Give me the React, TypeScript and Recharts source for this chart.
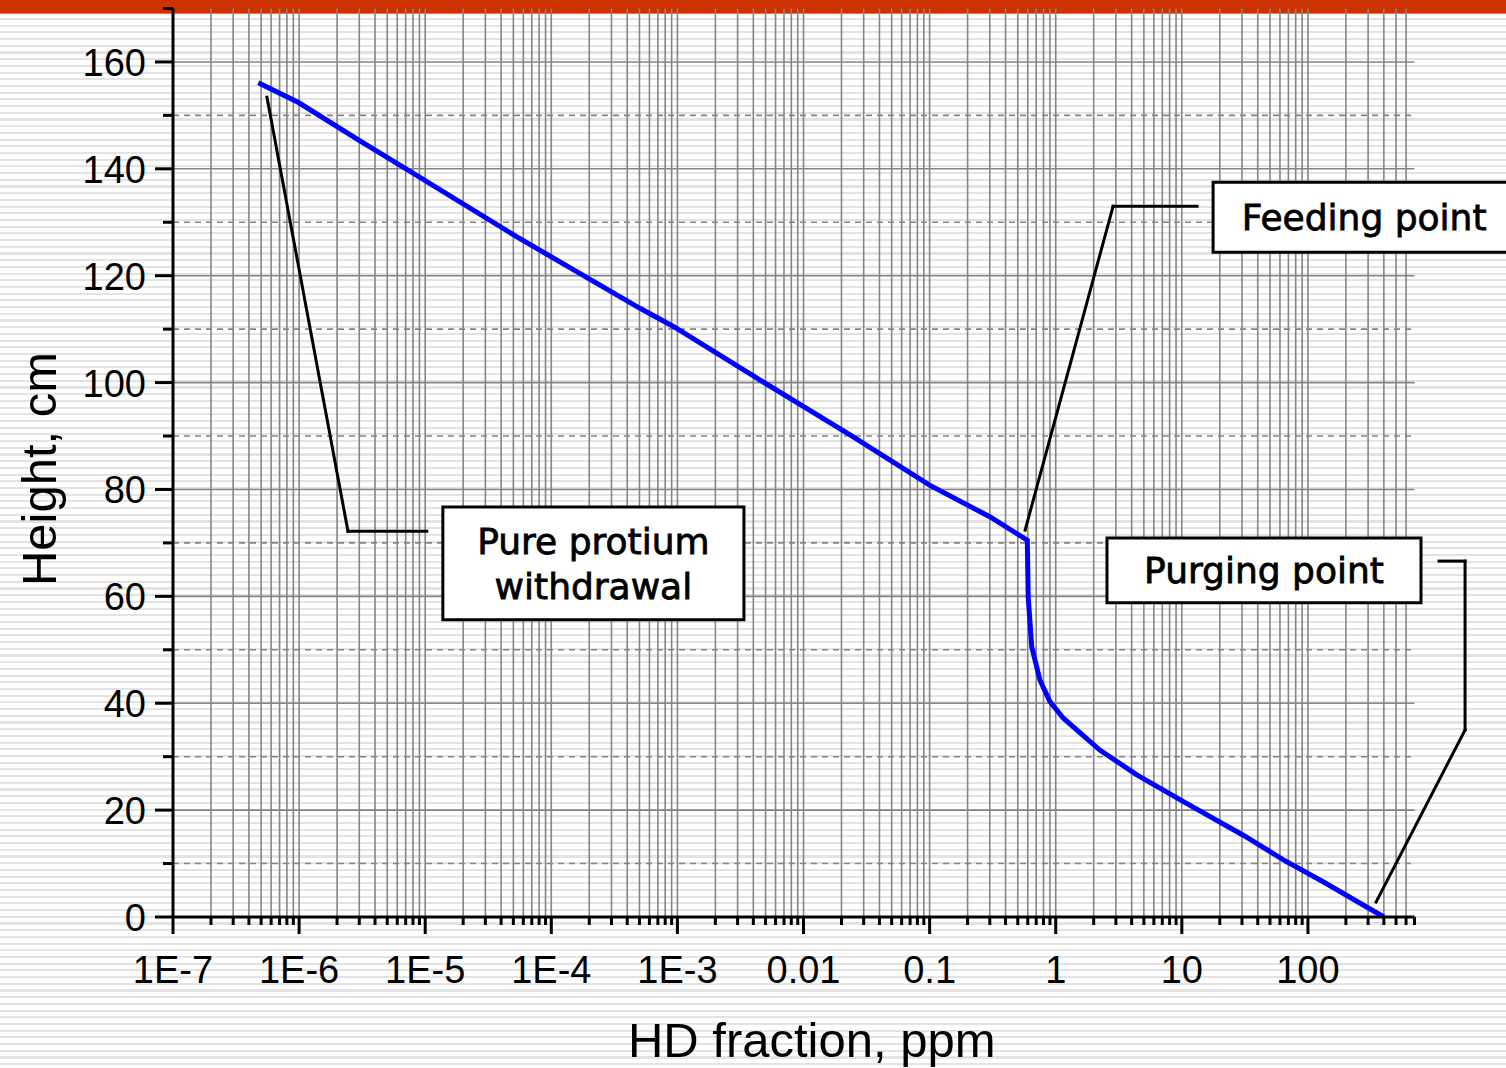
import React from 'react';
import { LineChart, Line, XAxis, YAxis, CartesianGrid, ReferenceArea, ReferenceLine } from 'recharts';

// HD fraction (ppm) vs column height (cm)
const hdFraction = [
  4.75e-7, 9.9e-7, 2.95e-6, 8.0e-6, 5.3e-5, 5.05e-4, 9.3e-4, 4.5e-3, 0.0234, 0.1, 0.3, 0.595,
  0.605, 0.645, 0.75, 0.9, 1.15, 2.25, 4.4, 10.3, 30.7, 64, 132, 400,
];
const heightCm = [
  156.1, 152.4, 145.4, 139.2, 127.3, 113.9, 110.5, 100.5, 90.2, 80.8, 74.9, 70.5,
  59.9, 50.6, 44.3, 40.3, 37.2, 31.2, 26.6, 21.6, 15.3, 10.7, 6.6, 0,
];

const decades = [1e-7, 1e-6, 1e-5, 1e-4, 1e-3, 0.01, 0.1, 1, 10, 100];
const decadeLabels = ['1E-7', '1E-6', '1E-5', '1E-4', '1E-3', '0.01', '0.1', '1', '10', '100'];
const multipliers = [1, 2, 3, 4, 5, 6, 7, 8, 9];
const xMax = 700;

const heightTicks = [0, 10, 20, 30, 40, 50, 60, 70, 80, 90, 100, 110, 120, 130, 140, 150, 160, 170];
const solidHeights = [20, 40, 60, 80, 100, 120, 140, 160];
const dashedHeights = [10, 30, 50, 70, 90, 110, 130, 150];

// callouts, in data units
const feedingBox = { x: [17.7, 4400], y: [124.4, 137.5] };
const feedingLeader = [[13.2, 133], [2.85, 133], [0.572, 72.4]];
const protiumBox = { x: [1.38e-5, 3.37e-3], y: [55.6, 76.7] };
const protiumLeader = [[1.03e-5, 72.2], [2.44e-6, 72.2], [5.56e-7, 153.4]];
const purgingBox = { x: [2.55, 788], y: [58.8, 70.9] };
const purgingLeader = [[1096, 66.6], [1762, 66.6], [1762, 35], [347, 2.8]];

const data = hdFraction.map((x, i) => ({ x, y: heightCm[i] }));
const xTicks = decades.flatMap((d) => multipliers.map((m) => d * m)).filter((v) => v <= xMax);
const xGrid = xTicks.filter((v) => v < xMax);

const tickFont = "'Liberation Sans', Arial, sans-serif";
const boxFont = "'DejaVu Sans', Verdana, sans-serif";

const XTick = (props: any) => {
  const { x, y, payload } = props;
  const idx = decades.indexOf(payload.value);
  const major = idx >= 0;
  return (
    <g>
      <line x1={x} x2={x} y1={y} y2={y + (major ? 17 : 8)} stroke="#000" strokeWidth={3} />
      {major && (
        <text x={x} y={y + 66} textAnchor="middle" fontSize={38} fontFamily={tickFont} fill="#000">
          {decadeLabels[idx]}
        </text>
      )}
    </g>
  );
};

const YTick = (props: any) => {
  const { x, y, payload } = props;
  const major = payload.value % 20 === 0;
  return (
    <g>
      <line x1={x - (major ? 18 : 10)} x2={x} y1={y} y2={y} stroke="#000" strokeWidth={3} />
      {major && (
        <text x={x - 27} y={y + 14} textAnchor="end" fontSize={38} fontFamily={tickFont} fill="#000">
          {payload.value}
        </text>
      )}
    </g>
  );
};

const XTitle = (props: any) => {
  const { viewBox } = props;
  const cx = viewBox.x + viewBox.width / 2 + 18;
  return (
    <text x={cx} y={1057} textAnchor="middle" fontSize={49} fontFamily={tickFont} fill="#000">
      HD fraction, ppm
    </text>
  );
};

const YTitle = () => (
  <text x={56} y={469} transform="rotate(-90 56 469)" textAnchor="middle" fontSize={49}
    fontFamily={tickFont} fill="#000">
    Height, cm
  </text>
);

const BoxLabel = (props: any) => {
  const { viewBox, lines } = props;
  const cx = viewBox.x + viewBox.width / 2;
  const cy = viewBox.y + viewBox.height / 2;
  const gap = 45;
  const first = cy + 13 - ((lines.length - 1) * gap) / 2;
  return (
    <g>
      {lines.map((t: string, i: number) => (
        <text key={t} x={cx} y={first + i * gap} textAnchor="middle" fontSize={36}
          fontFamily={boxFont} fill="#000" stroke="#000" strokeWidth={0.8}>
          {t}
        </text>
      ))}
    </g>
  );
};

const callout = (box: { x: number[]; y: number[] }, lines: string[], key: string) => (
  <ReferenceArea key={key} x1={box.x[0]} x2={box.x[1]} y1={box.y[0]} y2={box.y[1]}
    ifOverflow="visible" fill="#fff" fillOpacity={1} stroke="#000" strokeWidth={3}
    label={<BoxLabel lines={lines} />} />
);

const leader = (pts: number[][], key: string) =>
  pts.slice(1).map((p, i) => (
    <ReferenceLine key={`${key}-${i}`} ifOverflow="visible" stroke="#000" strokeWidth={3}
      strokeLinecap="square"
      segment={[{ x: pts[i][0], y: pts[i][1] }, { x: p[0], y: p[1] }]} />
  ));

export default function App() {
  return (
    <div style={{
      position: 'fixed', left: 0, top: 0, width: 1506, height: 1068, overflow: 'hidden',
      background: 'repeating-linear-gradient(180deg, #ffffff 0px, #ffffff 4.6px, #e3e3e3 4.6px, #e3e3e3 6.7px)',
    }}>
      <div style={{ position: 'absolute', left: 0, top: 0, width: 1506, height: 13, background: '#cc3300', borderBottom: '1px solid #e2774f' }} />
      <div style={{ position: 'absolute', left: 0, top: 0 }}>
        <LineChart width={1506} height={1068} data={data}
          margin={{ top: 8.5, right: 91.5, bottom: 0, left: 0 }}>
          <CartesianGrid stroke="#858585" strokeWidth={1.6}
            horizontalValues={solidHeights} verticalValues={xGrid} />
          <CartesianGrid stroke="#858585" strokeWidth={1.6} strokeDasharray="6 5"
            vertical={false} horizontalValues={dashedHeights} />
          <XAxis dataKey="x" type="number" scale="log" domain={[1e-7, xMax]} allowDataOverflow
            ticks={xTicks} interval={0} tick={<XTick />} tickLine={false} tickSize={0} tickMargin={0}
            axisLine={{ stroke: '#000', strokeWidth: 3 }} height={151} label={<XTitle />} />
          <YAxis type="number" domain={[0, 170]} ticks={heightTicks} interval={0} tick={<YTick />}
            tickLine={false} tickSize={0} tickMargin={0} allowDataOverflow
            axisLine={{ stroke: '#000', strokeWidth: 3 }} width={173} label={<YTitle />} />
          {callout(feedingBox, ['Feeding point'], 'feed')}
          {callout(protiumBox, ['Pure protium', 'withdrawal'], 'prot')}
          {callout(purgingBox, ['Purging point'], 'purge')}
          {leader(feedingLeader, 'fl')}
          {leader(protiumLeader, 'pl')}
          {leader(purgingLeader, 'gl')}
          <Line type="linear" dataKey="y" stroke="#0000ff" strokeWidth={5} dot={false}
            isAnimationActive={false} />
        </LineChart>
      </div>
    </div>
  );
}
